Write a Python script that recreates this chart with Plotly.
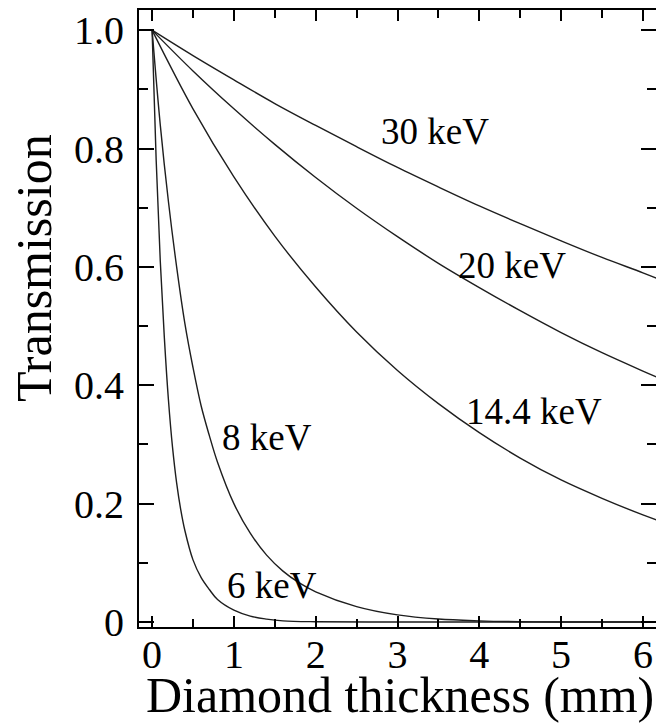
import plotly.graph_objects as go

# ---- data ----
thickness_6kev = [0, 0.05, 0.10, 0.15, 0.20, 0.25, 0.30, 0.35, 0.40, 0.50, 0.60, 0.70, 0.80,
                  1.00, 1.20, 1.40, 1.60, 2.00, 3.00, 4.00, 5.00, 6.20]
trans_6kev = [1.0, 0.78, 0.61, 0.48, 0.375, 0.295, 0.235, 0.19, 0.155, 0.105, 0.075, 0.055, 0.038,
              0.02, 0.01, 0.005, 0.002, 0.0005, 0, 0, 0, 0]

thickness_8kev = [0, 0.1, 0.2, 0.3, 0.4, 0.5, 0.6, 0.7, 0.8, 1.0, 1.2, 1.4, 1.6, 1.8, 2.0,
                  2.5, 3.0, 3.5, 4.0, 4.5, 5.0, 6.2]
trans_8kev = [1.0, 0.84, 0.71, 0.60, 0.505, 0.43, 0.365, 0.315, 0.27, 0.20, 0.15, 0.113, 0.086,
              0.066, 0.051, 0.026, 0.012, 0.005, 0.002, 0.0005, 0, 0]

thickness_hi = [0, 0.5, 1, 1.5, 2, 2.5, 3, 3.5, 4, 4.5, 5, 5.5, 6, 6.2]
trans_14kev = [1.0, 0.867, 0.752, 0.652, 0.566, 0.490, 0.425, 0.369, 0.320, 0.277, 0.240, 0.209, 0.181, 0.171]
trans_20kev = [1.0, 0.931, 0.867, 0.807, 0.751, 0.699, 0.651, 0.606, 0.565, 0.526, 0.489, 0.455, 0.424, 0.412]
trans_30kev = [1.0, 0.957, 0.916, 0.876, 0.839, 0.803, 0.768, 0.735, 0.703, 0.673, 0.644, 0.616, 0.590, 0.579]

curve_labels = ["30 keV", "20 keV", "14.4 keV", "8 keV", "6 keV"]
label_x = [3.46, 4.40, 4.67, 1.41, 1.47]
label_y = [0.828, 0.603, 0.356, 0.3125, 0.0625]

y_tick_vals = [0, 0.2, 0.4, 0.6, 0.8, 1.0]
y_tick_text = ["0", "0.2", "0.4", "0.6", "0.8", "1.0"]
y_minor_vals = [0.1, 0.3, 0.5, 0.7, 0.9]

x_title = "Diamond thickness (mm)"
y_title = "Transmission"

FONT = "Liberation Serif"
LINE = dict(color="#1e1e1e", width=1.4, shape="spline", smoothing=1.0)

W, H = 656, 724
L, T, R = 139, 10, 0
B = H - 627
pw, ph = W - L - R, H - T - B


def px_to_paper(px, py):
    return (px - L) / pw, (H - py - B) / ph


fig = go.Figure()
for xs, ys in [(thickness_hi, trans_30kev), (thickness_hi, trans_20kev), (thickness_hi, trans_14kev),
               (thickness_8kev, trans_8kev), (thickness_6kev, trans_6kev)]:
    fig.add_trace(go.Scatter(x=xs, y=ys, mode="lines", line=LINE, showlegend=False, hoverinfo="skip"))

for t, x, y in zip(curve_labels, label_x, label_y):
    fig.add_annotation(x=x, y=y, xref="x", yref="y", text=t, showarrow=False,
                       xanchor="center", yanchor="middle",
                       font=dict(family=FONT, size=37, color="black"))

yx, yy = px_to_paper(34, 268)
fig.add_annotation(x=yx, y=yy, xref="paper", yref="paper",
                   text=y_title, showarrow=False, textangle=-90,
                   xanchor="center", yanchor="middle",
                   font=dict(family=FONT, size=50, color="black"))
xx, xy = px_to_paper(400, 695)
fig.add_annotation(x=xx, y=xy, xref="paper", yref="paper",
                   text=x_title, showarrow=False,
                   xanchor="center", yanchor="middle",
                   font=dict(family=FONT, size=50, color="black"))

fig.update_xaxes(
    range=[-0.16, 6.16], showgrid=False, zeroline=False, automargin=False,
    showline=True, linewidth=2, linecolor="black", mirror="ticks",
    ticks="inside", ticklen=11, tickwidth=1.5, tickcolor="black",
    tick0=0, dtick=1,
    tickfont=dict(family=FONT, size=40, color="black"),
    ticklabelstandoff=-9,
    minor=dict(ticks="inside", ticklen=8, tickwidth=1.5, tickcolor="black", dtick=0.5, tick0=0, showgrid=False),
)
fig.update_yaxes(
    range=[-0.0084, 1.034], showgrid=False, zeroline=False, automargin=False,
    showline=True, linewidth=2, linecolor="black", mirror="ticks",
    ticks="inside", ticklen=15, tickwidth=1.5, tickcolor="black",
    tickmode="array", tickvals=y_tick_vals, ticktext=y_tick_text,
    tickfont=dict(family=FONT, size=40, color="black"),
    minor=dict(ticks="inside", ticklen=9, tickwidth=1.5, tickcolor="black",
               tickmode="array", tickvals=y_minor_vals, showgrid=False),
    ticklabelstandoff=5,
)
fig.update_layout(
    width=W, height=H, margin=dict(l=L, r=R, t=T, b=B, pad=0, autoexpand=False),
    paper_bgcolor="white", plot_bgcolor="white",
    font=dict(family=FONT, color="black"),
)
fig.write_html(
    "out.html",
    config={"displayModeBar": False},
    post_script="document.body.style.margin='0px';document.body.style.overflow='hidden';"
                "document.documentElement.style.overflow='hidden';",
)
